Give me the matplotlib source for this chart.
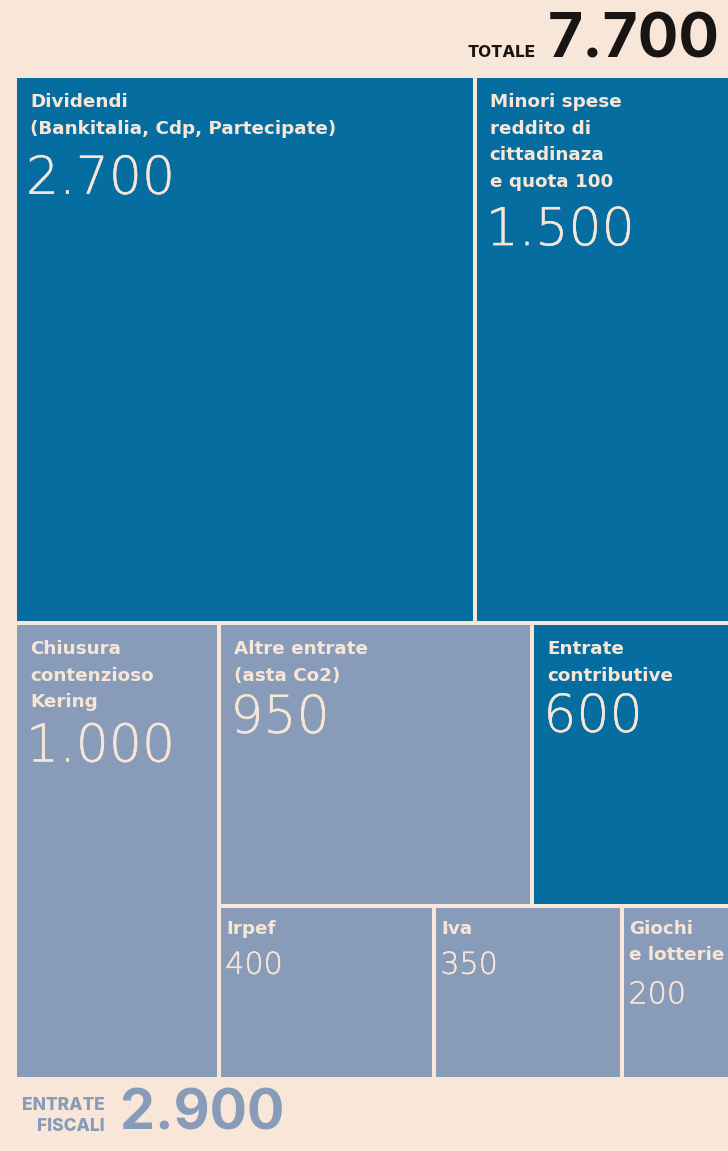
import matplotlib.pyplot as plt
import matplotlib.patheffects as pe
from matplotlib.patches import Rectangle

W, H = 728, 1151

BG = "#F8E7D9"
DARK = "#066DA0"
LIGHT = "#889BB8"
TXT = "#F7E6D7"
INK = "#1A1512"

# voci
labels = [
    "Dividendi\n(Bankitalia, Cdp, Partecipate)",
    "Minori spese\nreddito di\ncittadinaza\ne quota 100",
    "Chiusura\ncontenzioso\nKering",
    "Altre entrate\n(asta Co2)",
    "Entrate\ncontributive",
    "Irpef",
    "Iva",
    "Giochi\ne lotterie",
]
values = [2700, 1500, 1000, 950, 600, 400, 350, 200]
fiscal = [False, False, True, True, False, True, True, True]
value_text = ["2.700", "1.500", "1.000", "950", "600", "400", "350", "200"]
big = [True, True, True, True, True, False, False, False]
# gap (px) between last label baseline and the number baseline
num_gap = [60, 58, 54, 52, 51, 40, 40, 43]

# how the boxes are sliced: ("v" = stacked top to bottom, "h" = side by side)
layout = ("v", [("h", [0, 1]),
                ("h", [2, ("v", [("h", [3, 4]), ("h", [5, 6, 7])])])])

LAB_FONT = "DejaVu Sans"
NUM_FONT = "DejaVu Sans"
HEAD_FONT = "Inter"


def total(node):
    if isinstance(node, int):
        return values[node]
    return sum(total(c) for c in node[1])


def place(node, x, y, w, h, out):
    if isinstance(node, int):
        out[node] = (x, y, w, h)
        return
    d, kids = node
    s = total(node)
    for k in kids:
        f = total(k) / s
        if d == "h":
            place(k, x, y, w * f, h, out)
            x += w * f
        else:
            place(k, x, y, w, h * f, out)
            y += h * f


rects = {}
place(layout, 0, 0, 1, 1, rects)

fig = plt.figure(figsize=(W / 100, H / 100), dpi=100, facecolor=BG)
# plot area in pixels (includes half of the gap line)
L, R, T, B = 15, 730, 76, 1079
ax = fig.add_axes([L / W, 1 - B / H, (R - L) / W, (B - T) / H])
ax.set_xlim(0, 1)
ax.set_ylim(1, 0)
ax.axis("off")

px = 0.72  # points per pixel
thick = [pe.withStroke(linewidth=0.3, foreground=TXT)]
for i, (x, y, w, h) in rects.items():
    col = LIGHT if fiscal[i] else DARK
    ax.add_patch(Rectangle((x, y), w, h, facecolor=col, edgecolor=BG,
                           linewidth=4 * px))
    lines = labels[i].split("\n")
    padx = 15 if big[i] else 7
    base = 31 if big[i] else 28
    for k, ln in enumerate(lines):
        ax.annotate(ln, (x, y), xytext=(padx * px, -(base + k * 26.7) * px),
                    textcoords="offset points", ha="left", va="baseline",
                    fontsize=13.2, fontweight="bold", color=TXT,
                    family=LAB_FONT)
    nb = base + (len(lines) - 1) * 26.7 + num_gap[i]
    fs = 37.5 if big[i] else 21.7
    nx = 11 if big[i] else 6
    ax.annotate(value_text[i], (x, y), xytext=(nx * px, -nb * px),
                textcoords="offset points", ha="left", va="baseline",
                fontsize=fs, fontweight="light", color=TXT, family=NUM_FONT,
                path_effects=thick)

# header
fig.text(720 / W, 1 - 57 / H, "7.700", ha="right", va="baseline",
         fontsize=43.5, fontweight="bold", color=INK, family=HEAD_FONT)
fig.text(535 / W, 1 - 57 / H, "TOTALE", ha="right", va="baseline",
         fontsize=12, fontweight="heavy", color=INK, family=HEAD_FONT)

# footer
fig.text(120 / W, 1 - 1130 / H, "2.900", ha="left", va="baseline",
         fontsize=40, fontweight="bold", color=LIGHT, family=HEAD_FONT)
fig.text(105 / W, 1 - 1110 / H, "ENTRATE", ha="right", va="baseline",
         fontsize=12.5, fontweight="heavy", color=LIGHT, family=HEAD_FONT)
fig.text(105 / W, 1 - 1131 / H, "FISCALI", ha="right", va="baseline",
         fontsize=12.5, fontweight="heavy", color=LIGHT, family=HEAD_FONT)

fig.savefig("out.png", dpi=100, facecolor=BG)
